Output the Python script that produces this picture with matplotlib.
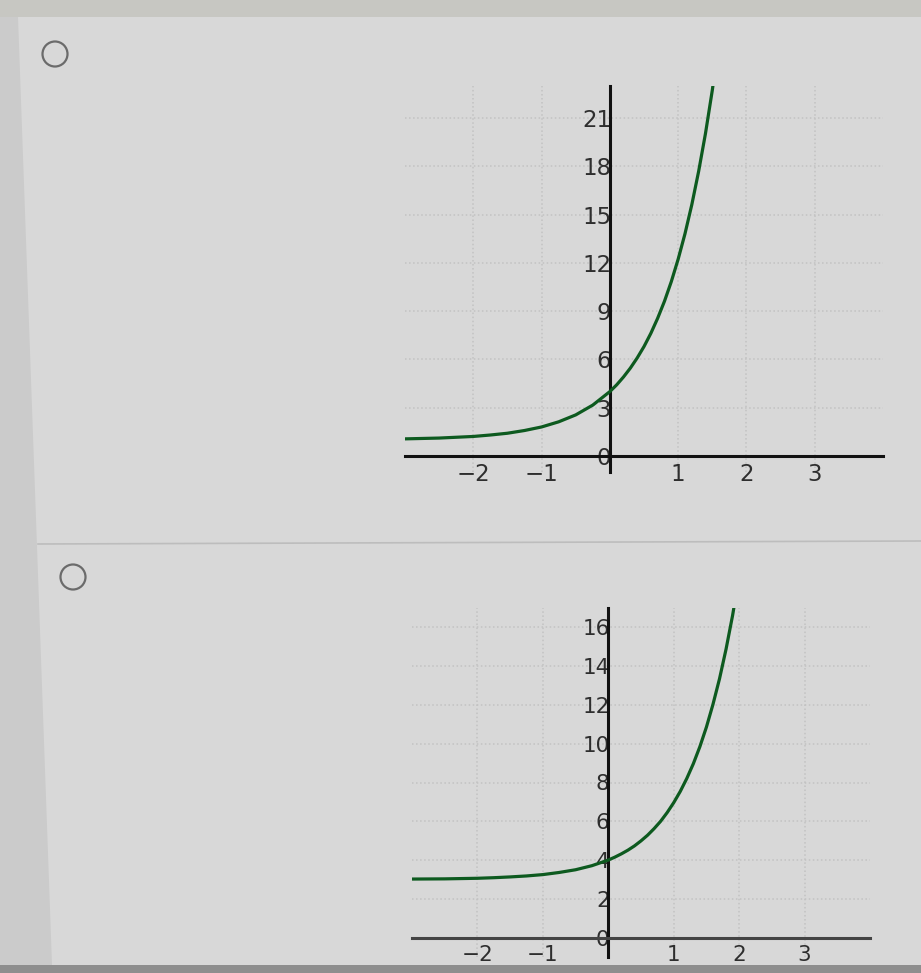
import matplotlib.pyplot as plt
from matplotlib.patches import Rectangle, Polygon, Ellipse
from matplotlib.lines import Line2D

W, H = 921, 973

# upper graph, values
top_x = [-3.0, -2.5, -2.0, -1.75, -1.5, -1.25, -1.0, -0.75, -0.5, -0.25, 0.0, 0.1, 0.2, 0.3,
         0.4, 0.5, 0.6, 0.7, 0.8, 0.9, 1.0, 1.1, 1.2, 1.3, 1.4, 1.5, 1.6]
top_y = [1.06, 1.11, 1.21, 1.30, 1.41, 1.58, 1.80, 2.12, 2.55, 3.16, 4.0, 4.42, 4.91, 5.46,
         6.09, 6.80, 7.62, 8.56, 9.62, 10.84, 12.23, 13.81, 15.62, 17.69, 20.04, 22.73, 25.8]
top_xticks = [-2, -1, 1, 2, 3]
top_yticks = [0, 3, 6, 9, 12, 15, 18, 21]

# lower graph
bottom_x = [-3.0, -2.5, -2.0, -1.75, -1.5, -1.25, -1.0, -0.75, -0.5, -0.25, 0.0, 0.1, 0.2,
            0.3, 0.4, 0.5, 0.6, 0.7, 0.8, 0.9, 1.0, 1.1, 1.2, 1.3, 1.4, 1.5, 1.6, 1.7, 1.8,
            1.9, 2.0]
bottom_y = [3.02, 3.03, 3.06, 3.09, 3.13, 3.18, 3.25, 3.36, 3.50, 3.71, 4.0, 4.15, 4.32,
            4.51, 4.73, 4.99, 5.28, 5.62, 6.00, 6.45, 6.96, 7.54, 8.21, 8.97, 9.85, 10.86,
            12.03, 13.35, 14.88, 16.62, 18.64]
bottom_xticks = [-2, -1, 1, 2, 3]
bottom_yticks = [0, 2, 4, 6, 8, 10, 12, 14, 16]


def px_rect(x0, y0, x1, y1):
    return [x0 / W, 1 - y1 / H, (x1 - x0) / W, (y1 - y0) / H]


def fx(x):
    return x / W


def fy(y):
    return 1 - y / H


def draw_graph(ax, xs, ys, xticks, yticks, ylim, xaxis_color, fs):
    ax.set_facecolor('none')
    ax.plot(xs, ys, color='#0d5a1f', lw=2.3, zorder=3, solid_joinstyle='round')
    ax.set_xlim(-3, 4)
    ax.set_ylim(*ylim)
    ax.spines['left'].set_position(('data', 0))
    ax.spines['bottom'].set_position(('data', 0))
    ax.spines['top'].set_visible(False)
    ax.spines['right'].set_visible(False)
    ax.spines['left'].set_color('#111111')
    ax.spines['bottom'].set_color(xaxis_color)
    ax.spines['left'].set_linewidth(2.2)
    ax.spines['bottom'].set_linewidth(2.2)
    ax.set_xticks(xticks)
    ax.set_yticks(yticks)
    ax.tick_params(length=0, labelsize=fs, labelcolor='#2e2e2e')
    ax.tick_params(axis='y', pad=-1)
    ax.tick_params(axis='x', pad=5)
    ax.grid(True, color='#c2c2c2', ls=':', lw=1.1)
    ax.set_axisbelow(True)


fig = plt.figure(figsize=(W / 100, H / 100), dpi=100)
fig.patch.set_facecolor('#d8d8d8')

# photo frame: darker strips around the page
fig.add_artist(Rectangle((0, fy(17)), 1, 17 / H, transform=fig.transFigure,
                         facecolor='#c7c7c2', edgecolor='none', zorder=0))
fig.add_artist(Polygon([(0, fy(17)), (fx(18), fy(17)), (fx(52), fy(965)), (0, fy(965))],
                       closed=True, transform=fig.transFigure,
                       facecolor='#cbcbcb', edgecolor='none', zorder=0))
fig.add_artist(Rectangle((0, 0), 1, 8 / H, transform=fig.transFigure,
                         facecolor='#8e8e8e', edgecolor='none', zorder=0))
fig.add_artist(Line2D([fx(38), 1], [fy(544), fy(541)], transform=fig.transFigure,
                      color='#bdbdbd', lw=1.2, zorder=1))

# radio buttons
for cx, cy in [(55, 54), (73, 577)]:
    fig.add_artist(Ellipse((fx(cx), fy(cy)), 25 / W, 25 / H, transform=fig.transFigure,
                           facecolor='none', edgecolor='#6b6b6b', lw=1.6, zorder=1))

ax1 = fig.add_axes(px_rect(405, 86, 883, 472))
draw_graph(ax1, top_x, top_y, top_xticks, top_yticks, (-1, 23), '#111111', 16.5)

ax2 = fig.add_axes(px_rect(412, 608, 870, 957))
draw_graph(ax2, bottom_x, bottom_y, bottom_xticks, bottom_yticks, (-1, 17), '#444444', 15.5)

fig.savefig('out.png', dpi=100, facecolor=fig.get_facecolor())
